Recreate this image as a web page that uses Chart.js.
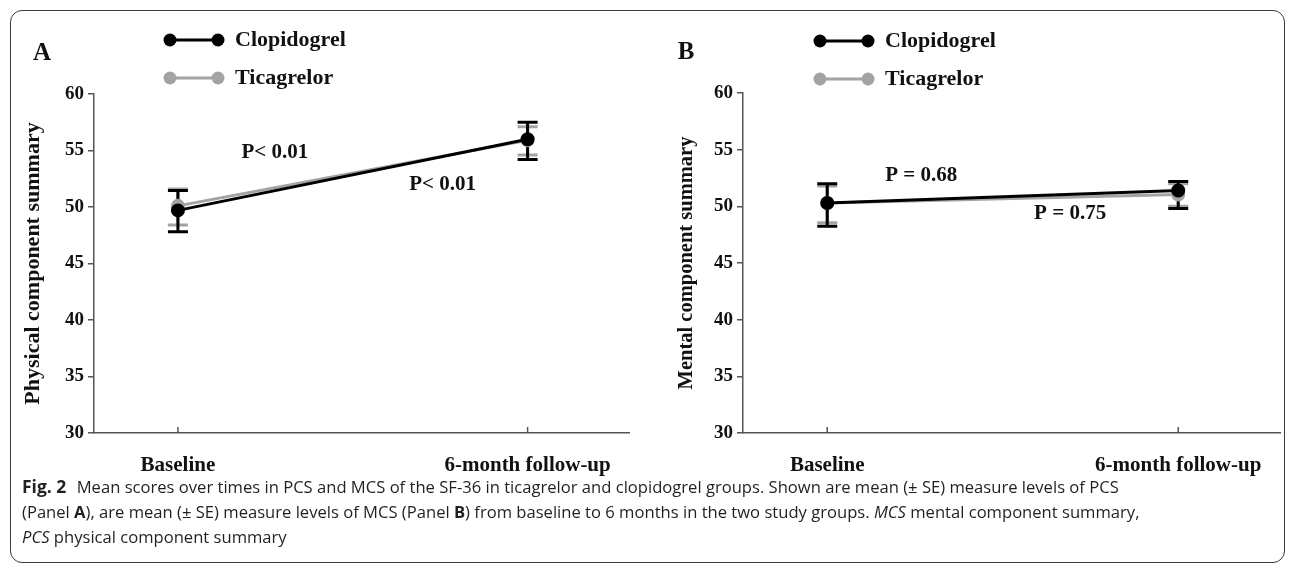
<!DOCTYPE html>
<html>
<head>
<meta charset="utf-8">
<script src="https://cdn.jsdelivr.net/npm/chart.js@4"></script>
<style>
  body { margin: 0; background: #fff; width: 1292px; height: 565px; overflow: hidden; position: relative; }
  .frame { position: absolute; left: 10px; top: 10px; width: 1275px; height: 553px; border: 1.5px solid #3a3a3a; border-radius: 12px; box-sizing: border-box; }
  canvas { position: absolute; top: 0; }
  #pcs { left: 0; }
  #mcs { left: 645px; }
  .caption { position: absolute; left: 22px; top: 474px; font-family: "Open Sans", sans-serif; font-size: 16.6px; line-height: 25px; color: #231f20; white-space: nowrap; }
  .caption b.fig { margin-right: 6px; font-size: 17.5px; }
</style>
</head>
<body>
<div class="frame"></div>
<canvas id="pcs" width="645" height="480"></canvas>
<canvas id="mcs" width="647" height="480"></canvas>
<div class="caption">
  <b class="fig">Fig. 2</b> Mean scores over times in PCS and MCS of the SF-36 in ticagrelor and clopidogrel groups. Shown are mean (± SE) measure levels of PCS<br>
  (Panel <b>A</b>), are mean (± SE) measure levels of MCS (Panel <b>B</b>) from baseline to 6 months in the two study groups. <i>MCS</i> mental component summary,<br>
  <i>PCS</i> physical component summary
</div>
<script>
// time points on the x axis
const timeLabels = ['Baseline', '6-month follow-up'];
const timePoints = [0, 1];
const yTicks = [30, 35, 40, 45, 50, 55, 60];

// Panel A - physical component summary (mean, lower and upper SE bar ends)
const pcsClopidogrel = [49.7, 56.0];
const pcsClopidogrelLow = [47.8, 54.2];
const pcsClopidogrelHigh = [51.45, 57.5];
const pcsTicagrelor = [50.1, 55.9];
const pcsTicagrelorLow = [48.4, 54.6];
const pcsTicagrelorHigh = [51.6, 57.1];
const pcsPValues = ['P< 0.01', 'P< 0.01'];

// Panel B - mental component summary
const mcsClopidogrel = [50.3, 51.4];
const mcsClopidogrelLow = [48.25, 49.8];
const mcsClopidogrelHigh = [52.0, 52.2];
const mcsTicagrelor = [50.3, 51.05];
const mcsTicagrelorLow = [48.55, 50.0];
const mcsTicagrelorHigh = [51.8, 52.0];
const mcsPValues = ['P = 0.68', 'P = 0.75'];

const SERIF = '"Liberation Serif", "Times New Roman", serif';
const BLACK = '#000000';
const GREY = '#a3a3a3';

const makeDataset = (label, color, mean, low, high) => ({
    label: label,
    data: timePoints.map((x, i) => ({ x: x, y: mean[i] })),
    errLow: low,
    errHigh: high,
    borderColor: color,
    backgroundColor: color,
    pointBackgroundColor: color,
    pointBorderColor: color,
    pointRadius: 5.5,
    borderWidth: 3,
});

// error bars, inner x ticks, p-values, legend and panel letter
const panelExtras = {
    id: 'panelExtras',
    beforeDatasetsDraw(chart) {
        const { ctx, scales: { x, y } } = chart;
        ctx.save();
        ctx.strokeStyle = '#555';
        ctx.lineWidth = 1.5;
        timePoints.forEach(v => {
            const px = x.getPixelForValue(v);
            ctx.beginPath();
            ctx.moveTo(px, y.bottom);
            ctx.lineTo(px, y.bottom - 6);
            ctx.stroke();
        });
        // draw back to front so the black bars sit on top
        for (let i = chart.data.datasets.length - 1; i >= 0; i--) {
            const ds = chart.data.datasets[i];
            ctx.strokeStyle = ds.borderColor;
            ctx.lineWidth = 3;
            ds.data.forEach((pt, j) => {
                const px = x.getPixelForValue(pt.x);
                const top = y.getPixelForValue(ds.errHigh[j]);
                const bot = y.getPixelForValue(ds.errLow[j]);
                ctx.beginPath();
                ctx.moveTo(px, top); ctx.lineTo(px, bot);
                ctx.moveTo(px - 10, top); ctx.lineTo(px + 10, top);
                ctx.moveTo(px - 10, bot); ctx.lineTo(px + 10, bot);
                ctx.stroke();
            });
        }
        ctx.restore();
    },
    afterDraw(chart, args, opts) {
        const { ctx, scales: { x, y } } = chart;
        ctx.save();
        ctx.fillStyle = '#111';
        ctx.textBaseline = 'middle';

        // p-value notes
        ctx.textAlign = 'center';
        ctx.font = 'bold 21px ' + SERIF;
        opts.pTexts.forEach((t, i) => {
            const pos = opts.pPos[i];
            ctx.fillText(t, x.getPixelForValue(pos.x), y.getPixelForValue(pos.y));
        });

        // panel letter
        ctx.font = 'bold 25px ' + SERIF;
        ctx.fillText(opts.letter, opts.letterX, opts.letterY);

        // legend
        ctx.textAlign = 'left';
        ctx.font = 'bold 22px ' + SERIF;
        chart.data.datasets.forEach((ds, i) => {
            const ly = opts.legendY + i * 38;
            const lx = opts.legendX;
            ctx.strokeStyle = ds.borderColor;
            ctx.fillStyle = ds.borderColor;
            ctx.lineWidth = 3;
            ctx.beginPath();
            ctx.moveTo(lx, ly); ctx.lineTo(lx + 48, ly);
            ctx.stroke();
            [lx, lx + 48].forEach(cx => {
                ctx.beginPath();
                ctx.arc(cx, ly, 6.5, 0, Math.PI * 2);
                ctx.fill();
            });
            ctx.fillStyle = '#111';
            ctx.fillText(ds.label, lx + 65, ly);
        });
        ctx.restore();
    }
};

function makePanel(id, cfg) {
    return new Chart(document.getElementById(id), {
        type: 'line',
        data: {
            datasets: [
                makeDataset('Clopidogrel', BLACK, cfg.clop, cfg.clopLow, cfg.clopHigh),
                makeDataset('Ticagrelor', GREY, cfg.tica, cfg.ticaLow, cfg.ticaHigh),
            ],
        },
        options: {
            responsive: false,
            animation: false,
            events: [],
            layout: { padding: { left: 14, right: cfg.padRight, top: cfg.padTop, bottom: 0 } },
            plugins: {
                legend: { display: false },
                tooltip: { enabled: false },
                panelExtras: cfg.extras,
            },
            scales: {
                x: {
                    type: 'linear',
                    min: -0.24,
                    max: 1.29,
                    afterBuildTicks: s => { s.ticks = timePoints.map(v => ({ value: v })); },
                    afterFit: s => { s.height = 47; },
                    grid: { display: false, drawTicks: false },
                    border: { color: '#555', width: 1.5 },
                    ticks: {
                        padding: 20,
                        color: '#111',
                        maxRotation: 0,
                        font: { family: SERIF, size: 21, weight: 'bold' },
                        callback: v => timeLabels[timePoints.indexOf(v)] ?? '',
                    },
                },
                y: {
                    min: 30,
                    max: 60,
                    afterBuildTicks: s => { s.ticks = yTicks.map(v => ({ value: v })); },
                    afterFit: s => { s.width = cfg.axisWidth; },
                    grid: { drawOnChartArea: false, tickLength: 6, color: '#555', lineWidth: 1.5 },
                    border: { color: '#555', width: 1.5 },
                    ticks: { padding: 4, color: '#111', font: { family: SERIF, size: 19, weight: 'bold' } },
                    title: {
                        display: true,
                        text: cfg.yTitle,
                        color: '#111',
                        font: { family: SERIF, size: cfg.titleSize, weight: 'bold' },
                        padding: { top: cfg.titlePad, bottom: 0 },
                    },
                },
            },
        },
        plugins: [panelExtras],
    });
}

makePanel('pcs', {
    clop: pcsClopidogrel, clopLow: pcsClopidogrelLow, clopHigh: pcsClopidogrelHigh,
    tica: pcsTicagrelor, ticaLow: pcsTicagrelorLow, ticaHigh: pcsTicagrelorHigh,
    yTitle: 'Physical component summary',
    axisWidth: 80, titleSize: 22, titlePad: 6, padTop: 94, padRight: 16,
    extras: {
        pTexts: pcsPValues,
        pPos: [{ x: 0.277, y: 54.8 }, { x: 0.757, y: 51.95 }],
        letter: 'A', letterX: 42, letterY: 54,
        legendX: 170, legendY: 40,
    },
});

makePanel('mcs', {
    clop: mcsClopidogrel, clopLow: mcsClopidogrelLow, clopHigh: mcsClopidogrelHigh,
    tica: mcsTicagrelor, ticaLow: mcsTicagrelorLow, ticaHigh: mcsTicagrelorHigh,
    yTitle: 'Mental component summary',
    axisWidth: 84, titleSize: 20.5, titlePad: 15, padTop: 93, padRight: 12,
    extras: {
        pTexts: mcsPValues,
        pPos: [{ x: 0.268, y: 52.74 }, { x: 0.692, y: 49.38 }],
        letter: 'B', letterX: 41, letterY: 53,
        legendX: 175, legendY: 41,
    },
});
</script>
</body>
</html>
